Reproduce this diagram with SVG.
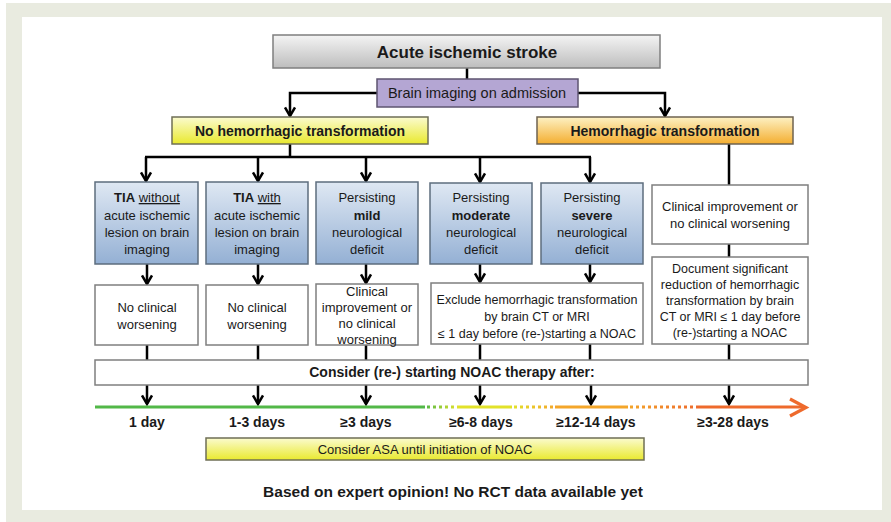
<svg xmlns="http://www.w3.org/2000/svg" width="891" height="522" viewBox="0 0 891 522">
<defs>
<style>
text{font-family:"Liberation Sans",Arial,sans-serif;fill:#1a1a1a;text-anchor:middle}
.b{font-weight:bold}
.t13{font-size:13px}
.t125{font-size:12.5px}
.wbox{fill:#fff;stroke:#7f7f7f;stroke-width:1.5}
.blue{fill:url(#gBlue);stroke:#5d6d7e;stroke-width:1.5}
.con{fill:none;stroke:#000;stroke-width:2.5}
.arr{marker-end:url(#ah)}
.tl{fill:none;stroke-width:3.2}
.dot{stroke-dasharray:3 3}
</style>
<linearGradient id="gGrey" x1="0" y1="0" x2="0" y2="1"><stop offset="0" stop-color="#f4f4f4"/><stop offset="1" stop-color="#bdbdbd"/></linearGradient>
<linearGradient id="gYel" x1="0" y1="0" x2="0" y2="1"><stop offset="0" stop-color="#fbfbcf"/><stop offset="1" stop-color="#e9e92e"/></linearGradient>
<linearGradient id="gOr" x1="0" y1="0" x2="0" y2="1"><stop offset="0" stop-color="#fdf1c4"/><stop offset="1" stop-color="#f4ae2f"/></linearGradient>
<linearGradient id="gBlue" x1="0" y1="0" x2="0" y2="1"><stop offset="0" stop-color="#dfe8f3"/><stop offset="1" stop-color="#94b0d4"/></linearGradient>
<linearGradient id="gD1" gradientUnits="userSpaceOnUse" x1="425" y1="0" x2="458" y2="0"><stop offset="0" stop-color="#52b848"/><stop offset="1" stop-color="#e2e22a"/></linearGradient>
<linearGradient id="gD2" gradientUnits="userSpaceOnUse" x1="512" y1="0" x2="556" y2="0"><stop offset="0" stop-color="#e2e22a"/><stop offset="1" stop-color="#f4a62a"/></linearGradient>
<linearGradient id="gD3" gradientUnits="userSpaceOnUse" x1="628" y1="0" x2="698" y2="0"><stop offset="0" stop-color="#f4a62a"/><stop offset="1" stop-color="#ee6a2c"/></linearGradient>
<marker id="ah" markerUnits="userSpaceOnUse" viewBox="0 0 12 12" refX="10" refY="6" markerWidth="12" markerHeight="12" orient="auto"><path d="M1.5,1 L10,6 L1.5,11" fill="none" stroke="#000" stroke-width="2.5"/></marker>
</defs>

<g id="background">
<rect x="0" y="0" width="891" height="522" fill="#ffffff"/>
<rect x="6" y="3" width="885" height="519" fill="#e9ebe0"/>
<rect x="22" y="17" width="860" height="493" fill="#ffffff"/>
</g>

<g id="connectors">
<path class="con" d="M467,68 V79"/>
<path class="con arr" d="M377,93 H290 V116"/>
<path class="con arr" d="M578,93 H665 V116"/>
<path class="con" d="M290,144 V157 M145,157 H591"/>
<path class="con arr" d="M146,157 V181"/>
<path class="con arr" d="M258,157 V181"/>
<path class="con arr" d="M366,157 V181"/>
<path class="con arr" d="M480,157 V182"/>
<path class="con arr" d="M590,157 V182"/>
<path class="con" d="M729,144 V185"/>
<path class="con arr" d="M147,264 V284"/>
<path class="con arr" d="M258,264 V284"/>
<path class="con arr" d="M366,264 V283"/>
<path class="con arr" d="M480,264 V282"/>
<path class="con arr" d="M590,264 V282"/>
<path class="con" d="M729,244 V257"/>
<path class="con" d="M147,345 V360 M258,345 V360 M366,345 V360 M480,344 V360 M590,344 V360 M729,344 V360"/>
<path class="con arr" d="M147,385 V404"/>
<path class="con arr" d="M258,385 V404"/>
<path class="con arr" d="M366,385 V404"/>
<path class="con arr" d="M480,385 V404"/>
<path class="con arr" d="M591,385 V404"/>
<path class="con arr" d="M729,385 V404"/>
</g>

<g id="acute">
<rect x="273" y="35" width="387" height="33" fill="url(#gGrey)" stroke="#7f7f7f" stroke-width="1.5"/>
<text class="b" x="467" y="58" font-size="17">Acute ischemic stroke</text>
</g>

<g id="brain-imaging">
<rect x="377" y="79" width="201" height="28" fill="#b4a6d3" stroke="#5e5470" stroke-width="1.5"/>
<text x="477" y="98" font-size="14.5">Brain imaging on admission</text>
</g>

<g id="no-hemorrhagic">
<rect x="172" y="117" width="256" height="27" fill="url(#gYel)" stroke="#6f6f55" stroke-width="1.5"/>
<text class="b" x="300" y="136" font-size="14">No hemorrhagic transformation</text>
</g>

<g id="hemorrhagic">
<rect x="537" y="117" width="256" height="27" fill="url(#gOr)" stroke="#6f6350" stroke-width="1.5"/>
<text class="b" x="665" y="136" font-size="14">Hemorrhagic transformation</text>
</g>

<g id="tia-without">
<rect class="blue" x="95" y="182" width="103" height="82"/>
<text class="t13" x="147" y="202"><tspan class="b">TIA</tspan> <tspan text-decoration="underline">without</tspan></text>
<text class="t13" x="147" y="219.5">acute ischemic</text>
<text class="t13" x="147" y="237">lesion on brain</text>
<text class="t13" x="147" y="254">imaging</text>
</g>

<g id="tia-with">
<rect class="blue" x="206" y="182" width="102" height="82"/>
<text class="t13" x="257" y="202"><tspan class="b">TIA</tspan> <tspan text-decoration="underline">with</tspan></text>
<text class="t13" x="257" y="219.5">acute ischemic</text>
<text class="t13" x="257" y="237">lesion on brain</text>
<text class="t13" x="257" y="254">imaging</text>
</g>

<g id="mild">
<rect class="blue" x="316" y="182" width="102" height="82"/>
<text class="t13" x="367" y="202">Persisting</text>
<text class="t13 b" x="367" y="219.5">mild</text>
<text class="t13" x="367" y="237">neurological</text>
<text class="t13" x="367" y="254">deficit</text>
</g>

<g id="moderate">
<rect class="blue" x="430" y="183" width="102" height="81"/>
<text class="t13" x="481" y="202">Persisting</text>
<text class="t13 b" x="481" y="219.5">moderate</text>
<text class="t13" x="481" y="237">neurological</text>
<text class="t13" x="481" y="254">deficit</text>
</g>

<g id="severe">
<rect class="blue" x="541" y="183" width="102" height="81"/>
<text class="t13" x="592" y="202">Persisting</text>
<text class="t13 b" x="592" y="219.5">severe</text>
<text class="t13" x="592" y="237">neurological</text>
<text class="t13" x="592" y="254">deficit</text>
</g>

<g id="clinical-improvement-hem">
<rect class="wbox" x="652" y="185" width="156" height="59"/>
<text class="t13" x="730" y="211">Clinical improvement or</text>
<text class="t13" x="730" y="228">no clinical worsening</text>
</g>

<g id="no-worsening-1">
<rect class="wbox" x="95" y="285" width="103" height="60"/>
<text class="t13" x="147" y="312">No clinical</text>
<text class="t13" x="147" y="329">worsening</text>
</g>

<g id="no-worsening-2">
<rect class="wbox" x="206" y="285" width="102" height="60"/>
<text class="t13" x="257" y="312">No clinical</text>
<text class="t13" x="257" y="329">worsening</text>
</g>

<g id="improvement-mild">
<rect class="wbox" x="316" y="284" width="102" height="61"/>
<text class="t13" x="367" y="296">Clinical</text>
<text class="t13" x="367" y="312">improvement or</text>
<text class="t13" x="367" y="328">no clinical</text>
<text class="t13" x="367" y="344">worsening</text>
</g>

<g id="exclude">
<rect class="wbox" x="431" y="283" width="212" height="61"/>
<text class="t125" x="537" y="304">Exclude hemorrhagic transformation</text>
<text class="t125" x="537" y="321">by brain CT or MRI</text>
<text class="t125" x="537" y="338">≤ 1 day before (re-)starting a NOAC</text>
</g>

<g id="document">
<rect class="wbox" x="652" y="257" width="156" height="87"/>
<text class="t125" x="730" y="273">Document significant</text>
<text class="t125" x="730" y="289">reduction of hemorrhagic</text>
<text class="t125" x="730" y="305">transformation by brain</text>
<text class="t125" x="730" y="321">CT or MRI ≤ 1 day before</text>
<text class="t125" x="730" y="337">(re-)starting a NOAC</text>
</g>

<g id="consider-noac">
<rect class="wbox" x="95" y="360" width="713" height="25"/>
<text class="b" x="452" y="377" font-size="14">Consider (re-) starting NOAC therapy after:</text>
</g>

<g id="timeline">
<path class="tl" stroke="#52b848" d="M95,407 H425"/>
<path class="tl dot" stroke="url(#gD1)" d="M427,407 H457"/>
<path class="tl" stroke="#e2e22a" d="M457,407 H512"/>
<path class="tl dot" stroke="url(#gD2)" d="M514,407 H555"/>
<path class="tl" stroke="#f4a62a" d="M555,407 H628"/>
<path class="tl dot" stroke="url(#gD3)" d="M630,407 H697"/>
<path class="tl" stroke="#ee6a2c" d="M697,407 H805"/>
<polyline points="790,399 806,407.5 790,416" fill="none" stroke="#ee6a2c" stroke-width="3.2"/>
<text class="b" x="147" y="427" font-size="14">1 day</text>
<text class="b" x="257" y="427" font-size="14">1-3 days</text>
<text class="b" x="366" y="427" font-size="14">≥3 days</text>
<text class="b" x="481" y="427" font-size="14">≥6-8 days</text>
<text class="b" x="596" y="427" font-size="14">≥12-14 days</text>
<text class="b" x="733" y="427" font-size="14">≥3-28 days</text>
</g>

<g id="asa">
<rect x="206" y="438" width="438" height="22" fill="url(#gYel)" stroke="#6f6f55" stroke-width="1.5"/>
<text class="t13" x="425" y="453.5">Consider ASA until initiation of NOAC</text>
</g>

<g id="footnote">
<text class="b" x="453" y="497" font-size="15.5">Based on expert opinion! No RCT data available yet</text>
</g>
</svg>
